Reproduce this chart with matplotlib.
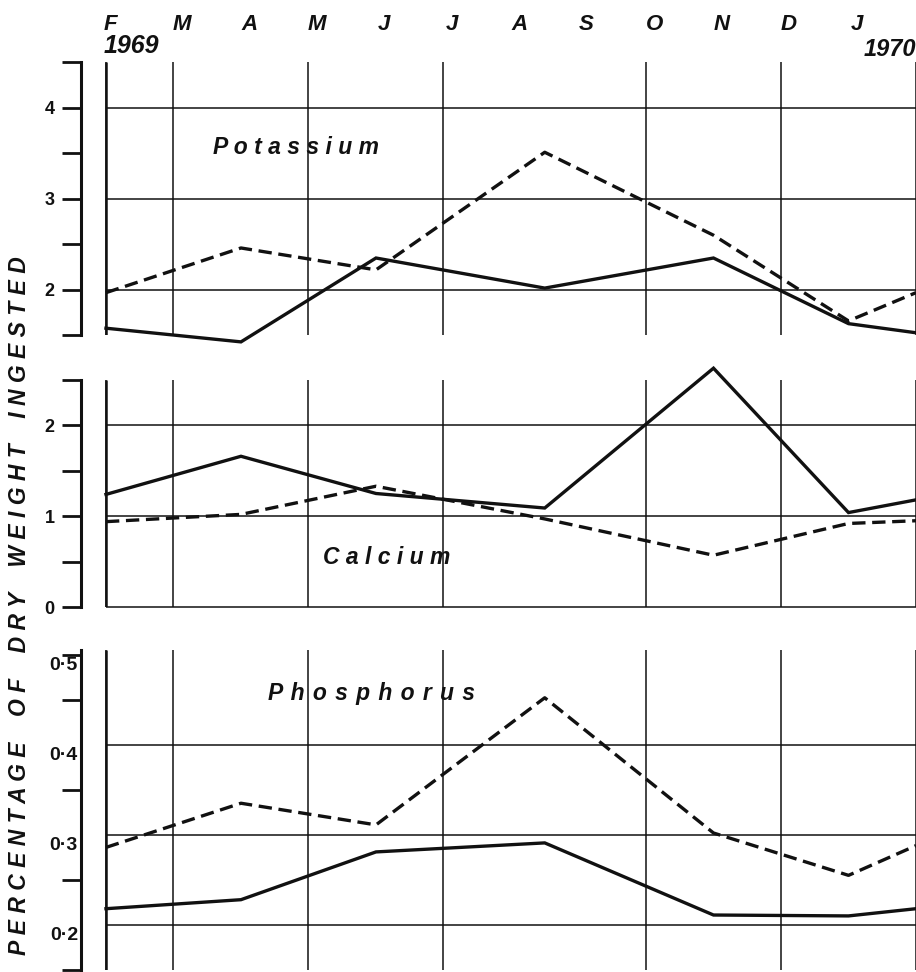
import matplotlib
matplotlib.use("Agg")
import matplotlib.pyplot as plt
from matplotlib.transforms import blended_transform_factory

plt.rcParams["font.family"] = ["Liberation Sans", "DejaVu Sans"]
plt.rcParams["font.weight"] = "bold"

# month labels along the top, Feb 1969 .. Jan 1970
month_labels = ["F", "M", "A", "M", "J", "J", "A", "S", "O", "N", "D", "J"]
grid_months = [0, 1, 3, 5, 8, 10, 12]

# sampling dates, months after 1 Feb 1969
sample_months = [0, 2, 4, 6.5, 9, 11, 12]

# potassium
k_solid = [1.58, 1.43, 2.35, 2.02, 2.35, 1.63, 1.53]
k_dashed = [1.97, 2.46, 2.22, 3.51, 2.60, 1.66, 1.97]

# calcium
ca_solid = [1.24, 1.66, 1.25, 1.09, 2.63, 1.04, 1.18]
ca_dashed = [0.94, 1.02, 1.33, 0.97, 0.57, 0.92, 0.95]

# phosphorus
p_solid = [0.218, 0.228, 0.281, 0.291, 0.211, 0.210, 0.218]
p_dashed = [0.286, 0.335, 0.311, 0.452, 0.302, 0.255, 0.288]

W, H = 916, 972
fig = plt.figure(figsize=(W / 100, H / 100), dpi=100)


def make_axes(top, bottom):
    # axes placed by pixel rows, left spine sits at x=81
    return fig.add_axes([81 / W, 1 - bottom / H, (W - 81) / W, (bottom - top) / H])


ax1 = make_axes(62, 335.5)
ax2 = make_axes(380, 607)
ax3 = make_axes(650, 970)

ink = "#111111"

panels = [
    (ax1, (1.5, 4.5), [1.5, 2, 2.5, 3, 3.5, 4, 4.5], ["", "2", "", "3", "", "4", ""], [4, 3, 2], k_solid, k_dashed),
    (ax2, (0, 2.5), [0, 0.5, 1, 1.5, 2, 2.5], ["0", "", "1", "", "2", ""], [2, 1, 0], ca_solid, ca_dashed),
    (ax3, (0.15, 0.505), [0.15, 0.25, 0.35, 0.45, 0.5], ["", "", "", "", ""], [0.4, 0.3, 0.2], p_solid, p_dashed),
]

for ax, ylim, ticks, tick_labels, hgrid, solid, dashed in panels:
    ax.set_xlim(-0.37, 12)
    ax.set_ylim(*ylim)
    for side in ["top", "right", "bottom"]:
        ax.spines[side].set_visible(False)
    ax.spines["left"].set_linewidth(2.2)
    ax.spines["left"].set_color(ink)
    ax.set_xticks([])
    ax.set_yticks(ticks)
    ax.set_yticklabels(tick_labels)
    ax.tick_params(axis="y", direction="out", length=14, width=2, pad=5,
                   labelsize=13, colors=ink)
    ax.patch.set_alpha(0)

    # grid lines
    ax.hlines(hgrid, 0, 12, color=ink, lw=1.1, clip_on=False)
    ax.vlines(grid_months, ylim[0], ylim[1], color=ink, lw=1.1, clip_on=False)
    ax.vlines([0], ylim[0], ylim[1], color=ink, lw=1.8)

    # the two series
    ax.plot(sample_months, solid, color=ink, lw=2.4, clip_on=False, solid_joinstyle="miter")
    ax.plot(sample_months, dashed, color=ink, lw=2.4, dashes=(4, 2), clip_on=False)

# phosphorus tick labels sit against the spine, a little below the tick
for v, txt in [(0.5, "0·5"), (0.4, "0·4"), (0.3, "0·3"), (0.2, "0·2")]:
    ax3.annotate(txt, xy=(0, v), xycoords=("axes fraction", "data"),
                 xytext=(-3, -11), textcoords="offset pixels",
                 ha="right", va="center", fontsize=14, color=ink)

# element names
name_style = dict(fontsize=16.5, fontstyle="italic", fontweight="bold", color=ink,
                  ha="left", va="center")
ax1.text(1.585, 3.56, "P o t a s s i u m", **name_style)
ax2.text(3.21, 0.55, "C a l c i u m", **name_style)
ax3.text(2.4, 0.457, "P \u200ah \u200ao \u200as \u200ap \u200ah \u200ao \u200ar \u200au \u200as", **name_style)

# months along the top
top = blended_transform_factory(ax1.transData, fig.transFigure)
month_style = dict(fontstyle="italic", fontweight="bold", color=ink, va="center")
for i, m in enumerate(month_labels):
    if i == 0:
        ax1.text(-0.04, 1 - 24 / H, m, transform=top, ha="left", fontsize=16, **month_style)
    else:
        ax1.text(i + 0.12, 1 - 24 / H, m, transform=top, ha="center", fontsize=16, **month_style)
ax1.text(-0.04, 1 - 46 / H, "1969", transform=top, ha="left", fontsize=18, **month_style)
ax1.text(12.0, 1 - 50 / H, "1970", transform=top, ha="right", fontsize=17, **month_style)

# vertical axis title
fig.text(20 / W, 1 - 606 / H,
         "P E R C E N T A G E    O F    D R Y    W E I G H T    I N G E S T E D",
         rotation=90, ha="center", va="center", fontsize=16.5,
         fontstyle="italic", fontweight="bold", color=ink)

fig.savefig("out.png", dpi=100, facecolor="white")
